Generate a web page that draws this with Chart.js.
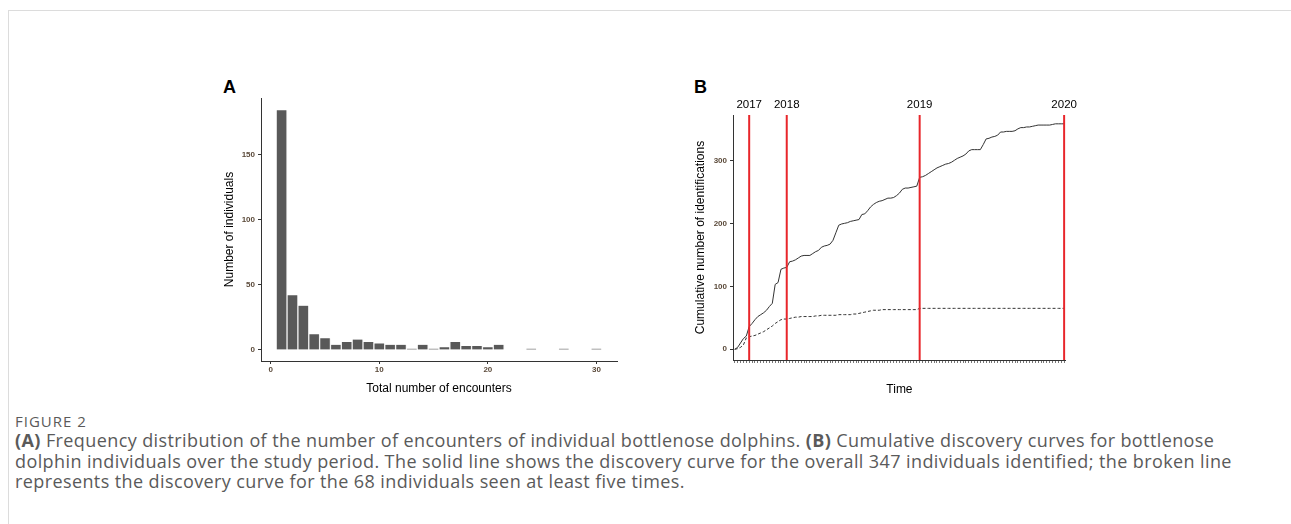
<!DOCTYPE html>
<html>
<head>
<meta charset="utf-8">
<script src="https://cdn.jsdelivr.net/npm/chart.js@4.4.1/dist/chart.umd.min.js"></script>
<style>
  body { margin: 0; width: 1291px; height: 524px; background: #fff; position: relative; overflow: hidden; }
  .frame { position: absolute; left: 8px; top: 10px; right: 0; bottom: 0; border-top: 1px solid #dcdcdc; border-left: 1px solid #dcdcdc; }
  .panel { position: absolute; }
  .tag { position: absolute; font: bold 18px/18px 'Liberation Sans', Arial, sans-serif; color: #000; }
  .fig { position: absolute; left: 15px; top: 412px; font: 15px/18px 'Open Sans', sans-serif; letter-spacing: 1px; color: #5a5a5a; }
  .caption { position: absolute; left: 15px; top: 430px; font: 18px/20.5px 'Open Sans', sans-serif; letter-spacing: 0.4px; color: #5a5a5a; white-space: nowrap; }
  .caption b { font-weight: 700; }
</style>
</head>
<body>
<div class="frame"></div>
<div class="tag" style="left:223px; top:78px;">A</div>
<div class="tag" style="left:694px; top:78px;">B</div>
<canvas id="histA" class="panel" width="430" height="310" style="left:200px; top:90px;"></canvas>
<canvas id="curveB" class="panel" width="400" height="315" style="left:680px; top:85px;"></canvas>
<div class="fig">FIGURE 2</div>
<div class="caption"><b>(A)</b> Frequency distribution of the number of encounters of individual bottlenose dolphins. <b>(B)</b> Cumulative discovery curves for bottlenose<br>dolphin individuals over the study period. The solid line shows the discovery curve for the overall 347 individuals identified; the broken line<br>represents the discovery curve for the 68 individuals seen at least five times.</div>
<script>
// Panel A - histogram of encounters
const encounters = [1, 2, 3, 4, 5, 6, 7, 8, 9, 10, 11, 12, 13, 14, 15, 16, 17, 18, 19, 20, 21, 22, 23, 24, 25, 26, 27, 28, 29, 30];
const individuals = [184, 42, 34, 12, 9, 4, 6, 8, 6, 5, 4, 4, 1, 4, 1, 2, 6, 3, 3, 2, 4, 0, 0, 1, 0, 0, 1, 0, 0, 1];
const encounterTicks = [0, 10, 20, 30];
const individualTicks = [0, 50, 100, 150];

// Panel B - cumulative discovery curves, one value per survey session
const sessions = [
  1, 2, 3, 4, 5, 6, 7, 8, 9, 10, 11, 12, 13, 14, 15, 16, 17, 18, 19, 20,
  21, 22, 23, 24, 25, 26, 27, 28, 29, 30, 31, 32, 33, 34, 35, 36, 37, 38, 39, 40,
  41, 42, 43, 44, 45, 46, 47, 48, 49, 50, 51, 52, 53, 54, 55, 56, 57, 58, 59, 60,
  61, 62, 63, 64, 65, 66, 67, 68, 69, 70, 71, 72, 73, 74, 75, 76, 77, 78, 79, 80,
  81, 82, 83, 84, 85, 86, 87, 88, 89, 90, 91, 92, 93, 94, 95, 96, 97, 98, 99, 100,
  101, 102, 103, 104, 105, 106, 107, 108, 109, 110, 111, 112, 113, 114, 115
];
const allIds = [
  0, 3, 10, 17, 21, 36, 41, 47, 52, 55,
  58, 62, 68, 73, 103, 106, 127, 129, 130, 139,
  140, 142, 145, 148, 149, 149, 149, 152, 155, 157,
  162, 164, 165, 167, 173, 185, 197, 199, 200, 201,
  203, 204, 205, 206, 214, 215, 220, 226, 230, 233,
  235, 236, 238, 240, 240, 241, 244, 248, 254, 256,
  256, 257, 258, 259, 273, 274, 276, 279, 282, 285,
  288, 290, 292, 294, 295, 297, 300, 303, 305, 307,
  310, 315, 317, 317, 317, 317, 325, 334, 335, 337,
  338, 340, 345, 345, 346, 346, 346, 347, 350, 352,
  352, 353, 353, 354, 355, 356, 356, 356, 356, 356,
  357, 358, 358, 358, 358
];
const frequentIds = [
  0, 1, 3, 7, 18, 20, 21, 22, 24, 26,
  28, 31, 34, 37, 41, 44, 47, 48, 48, 49,
  50, 51, 51, 52, 52, 52, 52, 52, 53, 53,
  54, 54, 54, 54, 54, 54, 55, 55, 55, 55,
  55, 56, 56, 57, 58, 59, 60, 61, 62, 62,
  62, 63, 63, 63, 63, 63, 63, 63, 63, 63,
  63, 63, 63, 63, 65, 65, 65, 65, 65, 65,
  65, 65, 65, 65, 65, 65, 65, 65, 65, 65,
  65, 65, 65, 65, 65, 65, 65, 65, 65, 65,
  65, 65, 65, 65, 65, 65, 65, 65, 65, 65,
  65, 65, 65, 65, 65, 65, 65, 65, 65, 65,
  65, 65, 65, 65, 65
];
const yearSessions = [6, 19, 65, 115];
const yearLabels = ['2017', '2018', '2019', '2020'];
const idTicks = [0, 100, 200, 300];

const axisColor = '#333';
const tickFont = { family: 'Liberation Sans', size: 8, weight: 'bold' };
const tickColor = '#5b4a3a';
const titleFont = { family: 'Liberation Sans', size: 12 };

const baseGrid = { drawOnChartArea: false, tickLength: 3, color: axisColor };

new Chart(document.getElementById('histA'), {
    type: 'bar',
    data: {
        datasets: [{
            data: encounters.map((e, i) => ({ x: e, y: individuals[i] })),
            backgroundColor: '#595959',
            borderColor: '#f0f0f0',
            borderWidth: { left: 1, right: 1, top: 0, bottom: 0 },
            borderSkipped: false,
            barPercentage: 1,
            categoryPercentage: 1
        }]
    },
    options: {
        responsive: false,
        animation: false,
        events: [],
        layout: { padding: { top: 8, right: 13, left: 0, bottom: 0 } },
        plugins: { legend: { display: false }, tooltip: { enabled: false } },
        scales: {
            x: {
                type: 'linear', min: -0.9, max: 31.9, offset: false,
                afterBuildTicks: s => { s.ticks = encounterTicks.map(v => ({ value: v })); },
                afterFit: s => { s.height = 39; },
                ticks: { autoSkip: false, maxRotation: 0, padding: 1, color: tickColor, font: tickFont },
                grid: { ...baseGrid, offset: false },
                border: { color: axisColor, width: 1 },
                title: { display: true, text: 'Total number of encounters', color: '#000', font: titleFont, padding: { top: 0, bottom: 4 } }
            },
            y: {
                min: -8.5, max: 193.5,
                afterBuildTicks: s => { s.ticks = individualTicks.map(v => ({ value: v })); },
                afterFit: s => { s.width = 61; },
                ticks: { padding: 3, color: tickColor, font: tickFont },
                grid: baseGrid,
                border: { color: axisColor, width: 1 },
                title: { display: true, text: 'Number of individuals', color: '#000', font: titleFont, padding: { top: 22, bottom: 0 } }
            }
        }
    }
});

const yearLines = yearSessions.map(s => ({
    data: [{ x: s, y: -17 }, { x: s, y: 372 }],
    borderColor: '#e8262b',
    borderWidth: 2,
    pointRadius: 0
}));

new Chart(document.getElementById('curveB'), {
    type: 'line',
    data: {
        datasets: [
            ...yearLines,
            {
                data: sessions.map((s, i) => ({ x: s, y: allIds[i] })),
                borderColor: '#333', borderWidth: 1, pointRadius: 0, tension: 0
            },
            {
                data: sessions.map((s, i) => ({ x: s, y: frequentIds[i] })),
                borderColor: '#333', borderWidth: 1, borderDash: [3, 2], pointRadius: 0, tension: 0
            }
        ]
    },
    options: {
        responsive: false,
        animation: false,
        events: [],
        layout: { padding: { top: 0, right: 14, left: 0, bottom: 0 } },
        plugins: { legend: { display: false }, tooltip: { enabled: false } },
        scales: {
            x: {
                type: 'linear', min: 0.4, max: 115.6,
                afterBuildTicks: s => { s.ticks = sessions.map(v => ({ value: v })); },
                afterFit: s => { s.height = 40; },
                ticks: { autoSkip: false, maxRotation: 0, callback: () => '' },
                grid: { ...baseGrid, color: '#777' },
                border: { color: axisColor, width: 1 },
                title: { display: true, text: 'Time', color: '#000', font: titleFont, padding: { top: 0, bottom: 3 } }
            },
            x2: {
                type: 'linear', position: 'top', min: 0.4, max: 115.6,
                afterBuildTicks: s => { s.ticks = yearSessions.map(v => ({ value: v })); },
                afterFit: s => { s.height = 30; },
                ticks: {
                    autoSkip: false, maxRotation: 0, padding: 3, color: '#000',
                    font: { family: 'Liberation Sans', size: 11.5 },
                    callback: v => yearLabels[yearSessions.indexOf(v)]
                },
                grid: { display: false, drawTicks: false },
                border: { display: false }
            },
            y: {
                min: -17, max: 372,
                afterBuildTicks: s => { s.ticks = idTicks.map(v => ({ value: v })); },
                afterFit: s => { s.width = 53; },
                ticks: { padding: 3, color: tickColor, font: tickFont },
                grid: baseGrid,
                border: { color: axisColor, width: 1 },
                title: { display: true, text: 'Cumulative number of identifications', color: '#000', font: titleFont, padding: { top: 13, bottom: 0 } }
            }
        }
    }
});
</script>
</body>
</html>
